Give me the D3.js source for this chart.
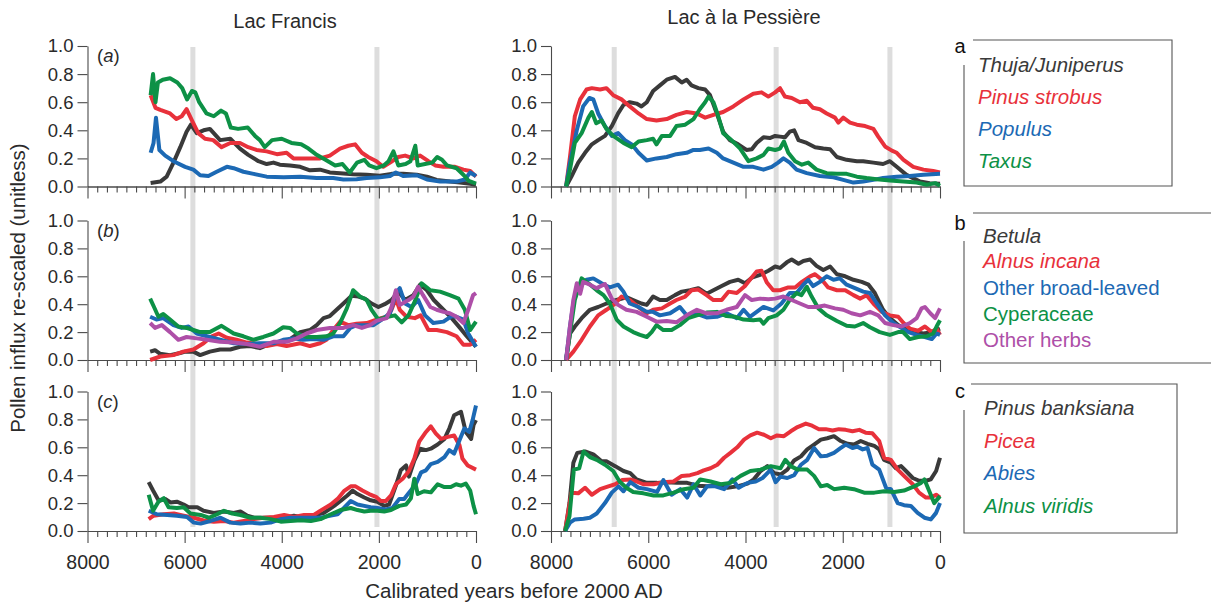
<!DOCTYPE html>
<html><head><meta charset="utf-8">
<script src="https://cdn.jsdelivr.net/npm/d3@7"></script>
<style>body{margin:0;background:#fff}svg{display:block;font-family:"Liberation Sans",Arial,Helvetica,sans-serif}</style>
</head><body><svg id="c" width="1211" height="606"></svg>
<script>
// ---------- DATA (years before 2000 AD, re-scaled influx) ----------
const siteNames = ["Lac Francis", "Lac à la Pessière"];
const panelLetters = ["a", "b", "c"];
const yTicks = [0, 0.2, 0.4, 0.6, 0.8, 1.0];
const xMajorTicks = [8000, 6000, 4000, 2000, 0];
const francisBands = [5830, 2040];
const pessiereBands = [6700, 3370, 1030];

const legendA = ["Thuja/Juniperus", "Pinus strobus", "Populus", "Taxus"];
const legendB = ["Betula", "Alnus incana", "Other broad-leaved", "Cyperaceae", "Other herbs"];
const legendC = ["Pinus banksiana", "Picea", "Abies", "Alnus viridis"];
const legendBItalic = [true, true, false, false, false];

// Lac Francis (a)
const francisThuja = [[6700,.025],[6500,.035],[6370,.07],[6230,.17],[6090,.28],[5960,.39],[5870,.44],[5750,.38],[5610,.40],[5480,.41],[5270,.33],[5060,.34],[4860,.27],[4690,.225],[4480,.18],[4310,.16],[4170,.17],[4040,.155],[3830,.15],[3620,.14],[3420,.115],[3210,.12],[3010,.10],[2800,.095],[2530,.088],[2250,.083],[1980,.076],[1740,.09],[1500,.09],[1220,.083],[1010,.07],[810,.047],[530,.035],[330,.028],[120,.019],[0,.012]];
const francisStrobus = [[6700,.65],[6600,.56],[6500,.545],[6300,.52],[6170,.48],[6060,.50],[5960,.55],[5850,.47],[5720,.38],[5580,.34],[5410,.33],[5240,.28],[5060,.31],[4860,.31],[4690,.28],[4520,.26],[4310,.25],[4100,.23],[3900,.24],[3760,.20],[3490,.20],[3210,.20],[3010,.22],[2800,.27],[2630,.29],[2490,.30],[2350,.24],[2220,.21],[2050,.18],[1910,.14],[1770,.17],[1600,.21],[1460,.22],[1290,.20],[1150,.22],[980,.18],[840,.15],[670,.14],[430,.14],[260,.12],[120,.11],[0,.07]];
const francisPopulus = [[6700,.24],[6640,.31],[6590,.49],[6520,.26],[6400,.22],[6230,.18],[5990,.14],[5820,.12],[5680,.08],[5510,.075],[5340,.105],[5130,.14],[4990,.13],[4790,.105],[4580,.09],[4310,.07],[3960,.065],[3620,.07],[3280,.06],[2940,.06],[2730,.05],[2460,.052],[2250,.06],[1980,.065],[1770,.075],[1650,.10],[1500,.075],[1220,.08],[1010,.05],[740,.035],[400,.035],[230,.05],[120,.10],[0,.075]];
const francisTaxus = [[6700,.65],[6650,.80],[6600,.60],[6550,.74],[6450,.76],[6300,.77],[6150,.74],[6050,.70],[5950,.62],[5850,.68],[5780,.67],[5700,.60],[5550,.52],[5400,.50],[5250,.54],[5150,.52],[5050,.42],[4900,.41],[4700,.42],[4550,.36],[4450,.33],[4350,.28],[4200,.33],[4000,.34],[3800,.31],[3600,.30],[3450,.27],[3300,.23],[3100,.19],[2900,.15],[2750,.16],[2600,.10],[2450,.17],[2300,.19],[2200,.15],[2050,.13],[1900,.15],[1800,.18],[1700,.25],[1600,.15],[1450,.16],[1350,.18],[1250,.29],[1200,.15],[1050,.16],[900,.17],[800,.21],[700,.19],[600,.15],[400,.13],[250,.08],[150,.04],[0,.02]];
// Lac Francis (b)
const francisBetula = [[6710,.06],[6610,.07],[6510,.045],[6300,.035],[6090,.05],[5990,.06],[5820,.06],[5680,.035],[5480,.06],[5270,.075],[5060,.075],[4860,.095],[4650,.10],[4450,.085],[4240,.115],[4040,.115],[3830,.15],[3620,.20],[3420,.215],[3280,.25],[3140,.30],[3010,.315],[2870,.36],[2730,.405],[2560,.46],[2420,.455],[2290,.44],[2150,.405],[2010,.38],[1880,.40],[1740,.43],[1600,.49],[1460,.43],[1290,.465],[1150,.54],[1010,.50],[870,.43],[670,.36],[500,.30],[330,.23],[190,.17],[0,.095]];
const francisAlnusInc = [[6710,0],[6500,.025],[6230,.035],[6030,.06],[5820,.075],[5610,.12],[5440,.17],[5300,.19],[5130,.16],[4930,.145],[4720,.125],[4510,.115],[4310,.10],[4100,.115],[3900,.10],[3620,.12],[3420,.10],[3210,.12],[3080,.145],[2940,.215],[2800,.275],[2630,.25],[2460,.26],[2250,.265],[2050,.29],[1840,.31],[1740,.36],[1650,.44],[1570,.36],[1430,.31],[1260,.30],[1140,.32],[980,.215],[810,.215],[600,.20],[400,.17],[260,.11],[120,.11],[0,.145]];
const francisBroad = [[6710,.31],[6580,.29],[6440,.30],[6230,.25],[6060,.23],[5920,.24],[5750,.19],[5540,.17],[5270,.145],[4990,.12],[4720,.115],[4450,.12],[4170,.12],[3970,.145],[3760,.155],[3560,.145],[3350,.15],[3140,.145],[2940,.17],[2730,.17],[2590,.23],[2460,.25],[2290,.25],[2110,.25],[1940,.29],[1770,.335],[1650,.48],[1570,.515],[1460,.405],[1330,.38],[1190,.43],[1050,.32],[880,.265],[670,.275],[500,.315],[400,.31],[260,.29],[160,.19],[0,.095]];
const francisCyper = [[6710,.44],[6630,.38],[6540,.31],[6440,.33],[6300,.29],[6130,.24],[5960,.23],[5820,.215],[5680,.20],[5480,.20],[5240,.245],[4990,.19],[4790,.17],[4580,.145],[4380,.165],[4170,.19],[3970,.235],[3830,.23],[3690,.19],[3490,.165],[3280,.165],[3080,.17],[2940,.19],[2800,.265],[2660,.37],[2530,.50],[2390,.455],[2250,.43],[2150,.36],[2010,.29],[1810,.31],[1670,.32],[1530,.27],[1390,.32],[1260,.42],[1120,.55],[940,.50],[740,.49],[540,.465],[360,.44],[230,.36],[120,.215],[0,.275]];
const francisHerbs = [[6710,.265],[6610,.23],[6470,.25],[6300,.20],[6130,.145],[5960,.165],[5750,.155],[5540,.145],[5270,.13],[4990,.125],[4720,.115],[4450,.095],[4170,.13],[3900,.13],[3690,.155],[3490,.19],[3280,.215],[3010,.23],[2730,.23],[2530,.25],[2350,.23],[2180,.25],[2050,.28],[1840,.30],[1740,.38],[1650,.50],[1570,.395],[1390,.43],[1290,.455],[1190,.525],[1090,.465],[940,.38],[810,.36],[670,.345],[540,.335],[400,.31],[260,.265],[160,.36],[60,.465],[0,.48]];
// Lac Francis (c)
const francisBanks = [[6740,.35],[6650,.29],[6530,.215],[6400,.23],[6290,.205],[6160,.21],[6020,.19],[5920,.17],[5740,.17],[5610,.145],[5400,.13],[5190,.14],[4990,.13],[4850,.14],[4710,.11],[4570,.095],[4370,.095],[4160,.095],[3950,.095],[3750,.11],[3540,.095],[3340,.11],[3130,.13],[2920,.18],[2790,.215],[2650,.255],[2540,.29],[2440,.265],[2300,.24],[2170,.22],[2030,.21],[1890,.18],[1790,.19],[1650,.325],[1550,.435],[1440,.47],[1380,.39],[1270,.505],[1150,.59],[1030,.58],[930,.59],[790,.62],[650,.66],[550,.735],[450,.83],[310,.855],[210,.71],[100,.66],[50,.76],[0,.795]];
const francisPicea = [[6740,.085],[6640,.11],[6430,.12],[6220,.125],[6020,.11],[5810,.095],[5610,.075],[5400,.067],[5190,.072],[4990,.06],[4780,.072],[4570,.085],[4370,.095],[4160,.10],[3950,.115],[3750,.10],[3540,.115],[3340,.115],[3160,.155],[2990,.19],[2850,.23],[2720,.285],[2580,.32],[2480,.32],[2340,.29],[2200,.265],[2060,.245],[1960,.215],[1860,.215],[1750,.255],[1650,.335],[1510,.375],[1380,.43],[1270,.52],[1170,.64],[1030,.71],[930,.75],[830,.70],[720,.66],[580,.675],[450,.685],[340,.615],[280,.52],[170,.47],[0,.44]];
const francisAbies = [[6740,.145],[6570,.12],[6360,.115],[6160,.11],[5950,.10],[5810,.06],[5670,.053],[5470,.072],[5260,.095],[5060,.06],[4850,.053],[4640,.06],[4440,.053],[4230,.06],[4020,.085],[3820,.095],[3610,.095],[3400,.095],[3200,.095],[2990,.11],[2850,.12],[2720,.165],[2580,.215],[2440,.19],[2300,.18],[2170,.17],[2030,.165],[1860,.155],[1720,.165],[1580,.23],[1480,.23],[1380,.275],[1240,.335],[1130,.42],[1030,.435],[930,.48],[790,.495],[650,.53],[550,.58],[450,.555],[340,.65],[240,.735],[140,.71],[70,.795],[0,.90]];
const francisAlnusVir = [[6740,.26],[6650,.145],[6530,.215],[6430,.235],[6330,.17],[6160,.165],[6020,.17],[5880,.125],[5670,.115],[5500,.095],[5330,.12],[5190,.145],[5020,.125],[4850,.115],[4640,.095],[4440,.095],[4230,.085],[4020,.067],[3820,.072],[3610,.077],[3400,.072],[3200,.085],[2990,.12],[2790,.15],[2580,.165],[2440,.15],[2300,.14],[2170,.145],[2030,.145],[1890,.14],[1750,.15],[1580,.18],[1440,.19],[1340,.235],[1270,.375],[1200,.265],[1070,.285],[930,.277],[790,.335],[650,.315],[520,.315],[410,.335],[310,.325],[210,.34],[120,.29],[50,.18],[0,.12]];

// Lac à la Pessière (a)
const pessThuja = [[7690,0],[7580,.07],[7440,.17],[7300,.24],[7160,.30],[7030,.33],[6890,.36],[6750,.43],[6620,.52],[6510,.58],[6380,.60],[6240,.59],[6140,.57],[6030,.60],[5900,.68],[5760,.72],[5620,.76],[5450,.78],[5310,.74],[5210,.76],[5110,.72],[4970,.70],[4830,.69],[4730,.65],[4590,.52],[4460,.39],[4320,.33],[4150,.30],[3980,.26],[3870,.265],[3770,.31],[3630,.35],[3500,.345],[3390,.36],[3290,.355],[3190,.35],[3090,.39],[3000,.40],[2910,.33],[2740,.31],[2570,.28],[2400,.27],[2260,.265],[2120,.21],[1920,.19],[1710,.18],[1580,.18],[1370,.17],[1170,.16],[1030,.18],[890,.14],[690,.083],[410,.035],[210,.024],[0,.019]];
const pessStrobus = [[7690,0],[7610,.21],[7510,.50],[7400,.62],[7270,.69],[7160,.70],[6990,.69],[6860,.70],[6720,.65],[6550,.62],[6380,.57],[6200,.52],[6030,.48],[5830,.47],[5620,.48],[5420,.51],[5210,.53],[5000,.52],[4830,.49],[4660,.51],[4460,.53],[4250,.57],[4040,.62],[3840,.66],[3670,.67],[3530,.64],[3390,.67],[3290,.70],[3190,.64],[3050,.63],[2880,.60],[2740,.61],[2610,.56],[2470,.55],[2330,.52],[2160,.49],[2090,.455],[1990,.49],[1850,.455],[1710,.44],[1540,.43],[1370,.41],[1270,.355],[1130,.285],[990,.255],[890,.24],[750,.19],[550,.14],[340,.12],[140,.11],[0,.10]];
const pessPopulus = [[7690,0],[7610,.17],[7470,.40],[7340,.57],[7210,.63],[7130,.62],[7030,.52],[6890,.43],[6750,.36],[6620,.38],[6480,.33],[6340,.30],[6200,.24],[6030,.185],[5830,.20],[5620,.21],[5420,.23],[5210,.24],[5070,.26],[4940,.26],[4760,.27],[4590,.24],[4460,.20],[4250,.17],[4040,.14],[3840,.14],[3630,.12],[3460,.14],[3330,.17],[3220,.20],[3090,.17],[2950,.12],[2740,.095],[2470,.075],[2190,.066],[1990,.047],[1780,.028],[1580,.035],[1370,.047],[1170,.06],[890,.07],[620,.075],[340,.083],[0,.09]];
const pessTaxus = [[7690,0],[7610,.12],[7510,.31],[7370,.38],[7230,.49],[7160,.53],[7070,.45],[6960,.47],[6860,.41],[6720,.36],[6510,.31],[6340,.28],[6200,.32],[6030,.33],[5900,.34],[5830,.30],[5720,.36],[5550,.36],[5420,.43],[5240,.44],[5070,.48],[4940,.55],[4830,.60],[4760,.64],[4660,.60],[4560,.50],[4460,.38],[4290,.33],[4110,.27],[3940,.18],[3770,.20],[3630,.225],[3530,.27],[3390,.26],[3290,.27],[3210,.32],[3120,.24],[2980,.18],[2840,.155],[2710,.17],[2540,.12],[2330,.095],[2120,.09],[1920,.09],[1710,.07],[1510,.06],[1300,.052],[1030,.043],[750,.035],[480,.028],[270,.012],[100,.024],[0,.005]];
// Lac à la Pessière (b)
const pessBetula = [[7690,0],[7610,.19],[7510,.24],[7370,.30],[7200,.36],[7030,.38],[6860,.405],[6650,.43],[6450,.45],[6310,.43],[6140,.405],[6030,.395],[5900,.455],[5760,.43],[5620,.43],[5450,.465],[5310,.49],[5140,.50],[4970,.515],[4800,.475],[4660,.50],[4490,.53],[4320,.56],[4150,.575],[4010,.55],[3870,.59],[3700,.61],[3530,.64],[3390,.67],[3290,.66],[3150,.70],[3050,.72],[2910,.69],[2810,.71],[2670,.72],[2540,.675],[2400,.645],[2260,.67],[2120,.615],[1950,.60],[1780,.575],[1610,.56],[1470,.54],[1340,.48],[1170,.36],[1030,.30],[860,.25],[690,.22],[510,.20],[340,.19],[170,.20],[0,.225]];
const pessAlnusInc = [[7690,0],[7540,.06],[7370,.145],[7200,.24],[7030,.32],[6860,.36],[6680,.405],[6550,.455],[6380,.43],[6170,.37],[6030,.335],[5900,.36],[5720,.37],[5550,.405],[5420,.43],[5240,.455],[5110,.50],[4970,.505],[4800,.465],[4660,.43],[4490,.43],[4350,.49],[4180,.48],[4010,.53],[3910,.575],[3770,.635],[3670,.64],[3560,.555],[3430,.50],[3290,.50],[3120,.52],[2980,.52],[2840,.56],[2670,.60],[2570,.615],[2430,.575],[2300,.52],[2120,.50],[1950,.50],[1780,.465],[1640,.44],[1510,.465],[1370,.405],[1200,.345],[1030,.32],[860,.31],[750,.265],[620,.225],[450,.21],[310,.24],[170,.20],[70,.225],[0,.18]];
const pessBroad = [[7690,0],[7610,.24],[7530,.43],[7420,.525],[7270,.575],[7130,.585],[6960,.55],[6790,.52],[6620,.54],[6510,.49],[6380,.405],[6200,.38],[6030,.345],[5900,.345],[5760,.32],[5550,.335],[5350,.38],[5210,.32],[5000,.33],[4800,.305],[4590,.31],[4390,.335],[4180,.30],[4040,.36],[3910,.31],[3770,.345],[3630,.38],[3430,.355],[3260,.405],[3090,.48],[2950,.48],[2810,.54],[2710,.575],[2610,.53],[2470,.56],[2330,.60],[2190,.575],[2060,.585],[1920,.54],[1750,.515],[1580,.49],[1440,.48],[1300,.405],[1130,.32],[960,.265],[790,.23],[650,.20],[480,.18],[310,.165],[170,.15],[70,.19],[0,.18]];
const pessCyper = [[7690,0],[7610,.19],[7510,.43],[7370,.585],[7230,.55],[7060,.50],[6920,.465],[6790,.405],[6650,.29],[6510,.24],[6310,.20],[6170,.18],[6030,.165],[5930,.20],[5830,.25],[5690,.215],[5520,.215],[5350,.25],[5180,.30],[5000,.32],[4800,.34],[4590,.345],[4390,.315],[4220,.31],[4040,.29],[3840,.285],[3700,.29],[3630,.26],[3530,.30],[3360,.32],[3220,.36],[3090,.43],[2950,.48],[2850,.465],[2740,.525],[2640,.455],[2500,.37],[2330,.32],[2120,.28],[1920,.245],[1750,.24],[1580,.265],[1440,.235],[1240,.20],[1030,.18],[860,.20],[760,.20],[620,.15],[450,.165],[270,.17],[140,.19],[70,.24],[0,.285]];
const pessHerbs = [[7690,0],[7610,.24],[7540,.43],[7470,.55],[7400,.475],[7340,.56],[7200,.54],[7060,.515],[6890,.545],[6750,.44],[6620,.395],[6450,.36],[6240,.345],[6030,.31],[5830,.275],[5620,.28],[5420,.27],[5210,.32],[5000,.36],[4800,.335],[4590,.335],[4390,.36],[4180,.38],[4010,.465],[3870,.43],[3700,.44],[3530,.435],[3390,.44],[3220,.455],[3050,.43],[2880,.405],[2710,.38],[2540,.38],[2370,.39],[2160,.37],[1990,.36],[1820,.335],[1640,.32],[1440,.345],[1270,.32],[1130,.265],[960,.25],[790,.24],[620,.265],[480,.30],[380,.37],[310,.38],[200,.335],[100,.30],[0,.37]];
// Lac à la Pessière (c)
const pessBanks = [[7710,0],[7620,.20],[7540,.49],[7460,.56],[7300,.57],[7130,.55],[6960,.50],[6860,.50],[6680,.465],[6510,.43],[6370,.415],[6240,.37],[6030,.345],[5820,.345],[5620,.35],[5410,.345],[5200,.345],[4990,.325],[4790,.32],[4580,.325],[4370,.31],[4170,.32],[3960,.34],[3830,.37],[3690,.43],[3550,.465],[3410,.415],[3280,.405],[3140,.44],[3000,.505],[2860,.535],[2730,.585],[2590,.62],[2450,.655],[2320,.665],[2180,.68],[2040,.645],[1900,.625],[1770,.62],[1630,.645],[1490,.625],[1350,.61],[1250,.585],[1150,.51],[1010,.49],[910,.45],[800,.465],[700,.43],[560,.38],[430,.36],[290,.36],[190,.37],[80,.43],[0,.525]];
const pessPicea = [[7710,0],[7580,.275],[7440,.27],[7300,.31],[7160,.26],[6990,.30],[6820,.32],[6680,.335],[6540,.365],[6370,.37],[6240,.355],[6100,.335],[5890,.335],[5690,.35],[5480,.355],[5310,.395],[5140,.40],[4990,.415],[4860,.435],[4720,.45],[4580,.475],[4440,.525],[4310,.56],[4170,.60],[4030,.655],[3900,.685],[3760,.705],[3620,.69],[3480,.665],[3350,.685],[3210,.68],[3070,.715],[2930,.745],[2760,.77],[2630,.755],[2490,.73],[2350,.73],[2210,.72],[2080,.73],[1940,.725],[1800,.715],[1660,.725],[1530,.705],[1390,.70],[1250,.645],[1150,.525],[1010,.51],[870,.44],[740,.395],[560,.335],[430,.275],[290,.24],[190,.24],[80,.26],[0,.24]];
const pessAbies = [[7710,0],[7610,.06],[7510,.083],[7330,.088],[7200,.095],[7060,.125],[6890,.20],[6750,.275],[6610,.32],[6510,.285],[6370,.35],[6200,.31],[6030,.30],[5820,.28],[5690,.365],[5520,.26],[5340,.30],[5200,.24],[5070,.335],[4930,.255],[4790,.32],[4620,.32],[4440,.30],[4270,.37],[4140,.31],[3960,.345],[3790,.355],[3650,.38],[3480,.44],[3380,.35],[3280,.39],[3140,.38],[3000,.40],[2860,.475],[2730,.51],[2590,.595],[2450,.535],[2320,.54],[2180,.56],[2040,.595],[1940,.62],[1800,.595],[1700,.605],[1590,.585],[1490,.595],[1390,.475],[1250,.44],[1110,.31],[1010,.30],[870,.20],[740,.185],[600,.18],[460,.13],[320,.095],[190,.083],[80,.13],[0,.20]];
const pessAlnusVir = [[7710,0],[7620,.107],[7530,.44],[7420,.45],[7330,.57],[7200,.53],[7060,.51],[6890,.475],[6720,.43],[6590,.355],[6450,.31],[6310,.28],[6100,.27],[5890,.255],[5690,.255],[5480,.275],[5270,.30],[5070,.31],[4930,.37],[4720,.355],[4510,.335],[4310,.345],[4100,.395],[3900,.43],[3690,.44],[3480,.465],[3280,.45],[3180,.51],[3070,.465],[2930,.44],[2730,.44],[2590,.395],[2450,.32],[2320,.33],[2180,.30],[1970,.31],[1770,.30],[1560,.275],[1350,.275],[1150,.285],[940,.28],[740,.29],[530,.32],[390,.345],[320,.37],[220,.285],[120,.20],[0,.25]];

const seriesColors = ["#3a3a3a", "#e8313b", "#1c69b4", "#0d9146", "#ae4fa8"];

// ---------- LAYOUT ----------
const svg = d3.select("#c");
const rows = [{top:46, bot:186.5}, {top:220.5, bot:360}, {top:391.5, bot:531}];
const xScales = [
  d3.scaleLinear().domain([8000,0]).range([87.5,476]),
  d3.scaleLinear().domain([8000,0]).range([551,940])
];
const panels = [
  [[francisThuja,francisStrobus,francisPopulus,francisTaxus],
   [francisBetula,francisAlnusInc,francisBroad,francisCyper,francisHerbs],
   [francisBanks,francisPicea,francisAbies,francisAlnusVir]],
  [[pessThuja,pessStrobus,pessPopulus,pessTaxus],
   [pessBetula,pessAlnusInc,pessBroad,pessCyper,pessHerbs],
   [pessBanks,pessPicea,pessAbies,pessAlnusVir]]
];
const bands = [francisBands, pessiereBands];
const axisCol = "#4a4a4a", textCol = "#2a2a2a";

// grey bands
bands.forEach((bs,si)=>{
  svg.append("g").selectAll("rect").data(bs).join("rect")
    .attr("x", d=>xScales[si](d)-2.5).attr("width",5)
    .attr("y",47).attr("height",480).attr("fill","#dddddd");
});

// axes
function styleAxis(g){
  g.selectAll("path,line").attr("stroke",axisCol).attr("stroke-width",1.1);
  g.selectAll("text").attr("fill",textCol);
}
[0,1].forEach(si=>{
  rows.forEach((r,ri)=>{
    const y = d3.scaleLinear().domain([0,1]).range([r.bot,r.top]);
    const x = xScales[si];
    const gy = svg.append("g").attr("transform",`translate(${x.range()[0]},0)`)
      .call(d3.axisLeft(y).tickValues(yTicks).tickFormat(d3.format(".1f")).tickSize(10).tickSizeOuter(0).tickPadding(4));
    gy.selectAll("text").attr("font-size",18.5).attr("font-family","Liberation Sans, Arial, sans-serif");
    styleAxis(gy);
    const minor = d3.range(0,8001,200).filter(v=>v%2000!==0);
    const gm = svg.append("g").attr("transform",`translate(0,${r.bot})`)
      .call(d3.axisBottom(x).tickValues(minor).tickFormat("").tickSize(6).tickSizeOuter(0));
    styleAxis(gm);
    const gx = svg.append("g").attr("transform",`translate(0,${r.bot})`)
      .call(d3.axisBottom(x).tickValues(xMajorTicks).tickFormat(ri===2?d3.format("d"):"").tickSize(12).tickSizeOuter(0).tickPadding(12));
    gx.selectAll("text").attr("font-size",19.5).attr("font-family","Liberation Sans, Arial, sans-serif");
    styleAxis(gx);

    // lines
    const line = d3.line().x(d=>x(d[0])).y(d=>y(d[1]));
    svg.append("g").selectAll("path").data(panels[si][ri]).join("path")
      .attr("d", line).attr("fill","none")
      .attr("stroke",(d,i)=>seriesColors[i]).attr("stroke-width",4)
      .attr("stroke-linejoin","round").attr("stroke-linecap","butt");

    if(si===0){
      const t = svg.append("text").attr("x",97).attr("y",r.top+16).attr("font-size",18.5).attr("fill",textCol);
      t.append("tspan").text("(");
      t.append("tspan").attr("font-style","italic").text(panelLetters[ri]);
      t.append("tspan").text(")");
    }
  });
});

// titles
svg.append("text").attr("x",285).attr("y",28).attr("text-anchor","middle").attr("font-size",20).attr("fill",textCol).text(siteNames[0]);
svg.append("text").attr("x",744).attr("y",24).attr("text-anchor","middle").attr("font-size",20).attr("fill",textCol).text(siteNames[1]);
svg.append("text").attr("transform","translate(25,288) rotate(-90)").attr("text-anchor","middle").attr("font-size",20.5).attr("fill",textCol).text("Pollen influx re-scaled (unitless)");
svg.append("text").attr("x",514).attr("y",598).attr("text-anchor","middle").attr("font-size",20.5).attr("fill",textCol).text("Calibrated years before 2000 AD");

// legends
const lg = svg.append("g").attr("fill","none").attr("stroke","#555").attr("stroke-width",1.1);
lg.append("path").attr("d","M973,40H1172V186H964V65");
lg.append("path").attr("d","M973,213H1211M964,241V363H1211");
lg.append("path").attr("d","M971,384H1177V533H964V410");
[["a",53],["b",230],["c",398]].forEach(([l,yy])=>{
  svg.append("text").attr("x",960).attr("y",yy).attr("text-anchor","middle").attr("font-size",20).attr("fill","#111").text(l);
});
function legend(names, x, ys, italics){
  names.forEach((n,i)=>{
    svg.append("text").attr("x",x).attr("y",ys[i]).attr("font-size",20.5)
      .attr("font-style", italics[i]?"italic":"normal")
      .attr("fill", seriesColors[i]).text(n);
  });
}
legend(legendA, 978, [72,104,136,168], [true,true,true,true]);
legend(legendB, 983, [243,268,295,321,347], legendBItalic);
legend(legendC, 984, [415,448,480,513], [true,true,true,true]);
</script></body></html>
